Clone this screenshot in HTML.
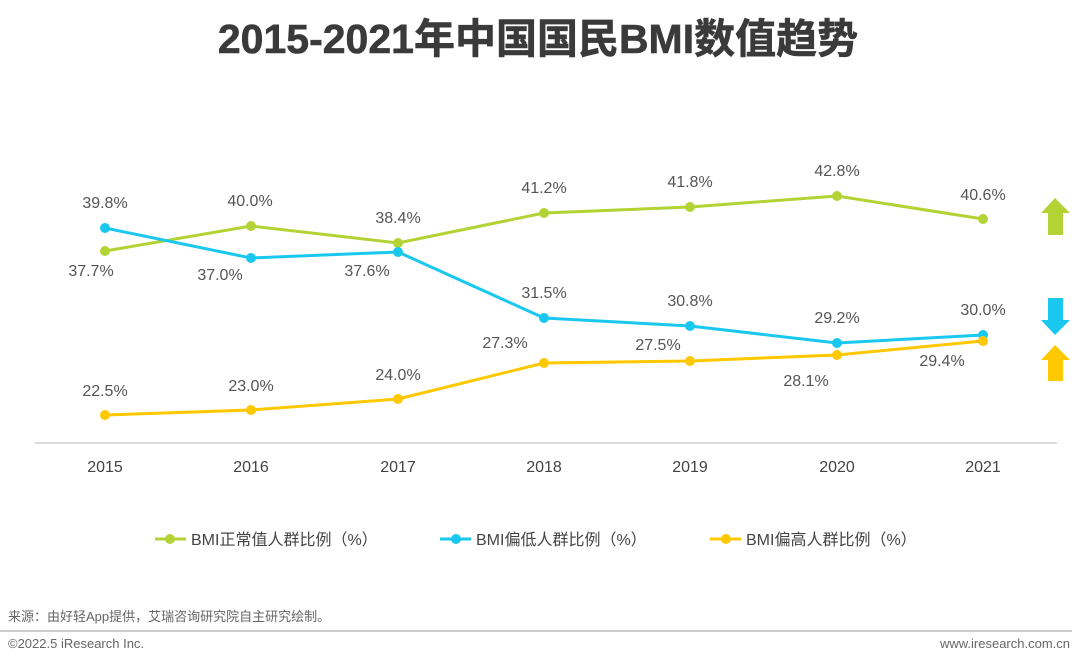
<!DOCTYPE html>
<html><head><meta charset="utf-8"><style>
body{margin:0;background:#fff;}
svg text{font-family:"Liberation Sans","Noto Sans CJK SC",sans-serif;}
</style></head><body>
<svg width="1080" height="667" xmlns="http://www.w3.org/2000/svg">
<text x="538" y="53" text-anchor="middle" font-size="41" font-weight="bold" fill="#3a3a3a" stroke="#3a3a3a" stroke-width="0.6">2015-2021年中国国民BMI数值趋势</text>
<line x1="35" y1="443" x2="1057" y2="443" stroke="#bbb" stroke-width="1"/>
<g font-size="16" fill="#444" text-anchor="middle">
<text x="105" y="472">2015</text><text x="251" y="472">2016</text><text x="398" y="472">2017</text><text x="544" y="472">2018</text><text x="690" y="472">2019</text><text x="837" y="472">2020</text><text x="983" y="472">2021</text>
</g>
<polyline fill="none" stroke="#b3d334" stroke-width="3" points="105,251 251,226 398,243 544,213 690,207 837,196 983,219"/>
<polyline fill="none" stroke="#1ac8ef" stroke-width="3" points="105,228 251,258 398,252 544,318 690,326 837,343 983,335"/>
<polyline fill="none" stroke="#ffc800" stroke-width="3" points="105,415 251,410 398,399 544,363 690,361 837,355 983,341"/>
<g fill="#b3d334"><circle cx="105" cy="251" r="5"/><circle cx="251" cy="226" r="5"/><circle cx="398" cy="243" r="5"/><circle cx="544" cy="213" r="5"/><circle cx="690" cy="207" r="5"/><circle cx="837" cy="196" r="5"/><circle cx="983" cy="219" r="5"/></g>
<g fill="#1ac8ef"><circle cx="105" cy="228" r="5"/><circle cx="251" cy="258" r="5"/><circle cx="398" cy="252" r="5"/><circle cx="544" cy="318" r="5"/><circle cx="690" cy="326" r="5"/><circle cx="837" cy="343" r="5"/><circle cx="983" cy="335" r="5"/></g>
<g fill="#ffc800"><circle cx="105" cy="415" r="5"/><circle cx="251" cy="410" r="5"/><circle cx="398" cy="399" r="5"/><circle cx="544" cy="363" r="5"/><circle cx="690" cy="361" r="5"/><circle cx="837" cy="355" r="5"/><circle cx="983" cy="341" r="5"/></g>
<g font-size="16" fill="#555" text-anchor="middle">
<text x="91" y="276">37.7%</text><text x="250" y="206">40.0%</text><text x="398" y="223">38.4%</text><text x="544" y="193">41.2%</text><text x="690" y="187">41.8%</text><text x="837" y="176">42.8%</text><text x="983" y="200">40.6%</text>
<text x="105" y="208">39.8%</text><text x="220" y="280">37.0%</text><text x="367" y="276">37.6%</text><text x="544" y="298">31.5%</text><text x="690" y="306">30.8%</text><text x="837" y="323">29.2%</text><text x="983" y="315">30.0%</text>
<text x="105" y="396">22.5%</text><text x="251" y="391">23.0%</text><text x="398" y="380">24.0%</text><text x="505" y="348">27.3%</text><text x="658" y="350">27.5%</text><text x="806" y="386">28.1%</text><text x="942" y="366">29.4%</text>
</g>
<polygon fill="#b3d334" points="1055,198 1070,213 1063,213 1063,235 1048,235 1048,213 1041,213"/>
<polygon fill="#1ac8ef" points="1048,298 1063,298 1063,320 1070,320 1055,335 1041,320 1048,320"/>
<polygon fill="#ffc800" points="1055,345 1070,360 1063,360 1063,381 1048,381 1048,360 1041,360"/>
<g font-size="16" fill="#444">
<line x1="155" y1="539" x2="186" y2="539" stroke="#b3d334" stroke-width="3"/><circle cx="170" cy="539" r="5" fill="#b3d334"/><text x="191" y="545">BMI正常值人群比例（%）</text>
<line x1="440" y1="539" x2="471" y2="539" stroke="#1ac8ef" stroke-width="3"/><circle cx="456" cy="539" r="5" fill="#1ac8ef"/><text x="476" y="545">BMI偏低人群比例（%）</text>
<line x1="710" y1="539" x2="741" y2="539" stroke="#ffc800" stroke-width="3"/><circle cx="726" cy="539" r="5" fill="#ffc800"/><text x="746" y="545">BMI偏高人群比例（%）</text>
</g>
<text x="8" y="621" font-size="13" fill="#666">来源：由好轻App提供，艾瑞咨询研究院自主研究绘制。</text>
<line x1="0" y1="631" x2="1072" y2="631" stroke="#999" stroke-width="1"/>
<text x="8" y="648" font-size="13" fill="#666">©2022.5 iResearch Inc.</text>
<text x="1070" y="648" font-size="13" fill="#666" text-anchor="end">www.iresearch.com.cn</text>
</svg>
</body></html>
